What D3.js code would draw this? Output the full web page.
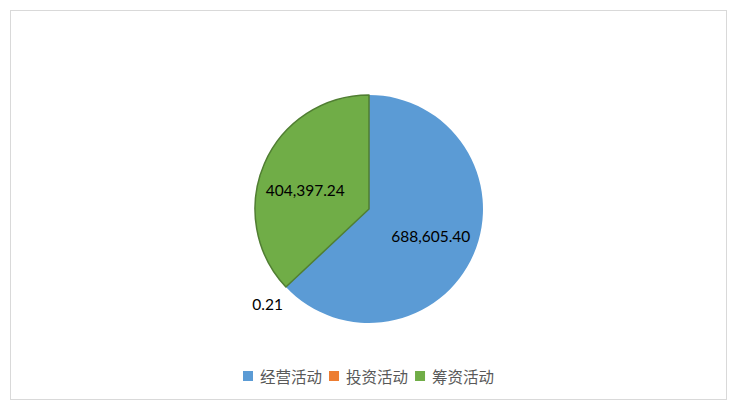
<!DOCTYPE html>
<html><head><meta charset="utf-8">
<script src="https://cdn.jsdelivr.net/npm/d3@7"></script>
<style>body{margin:0;background:#fff;}svg{display:block;}</style>
</head><body>
<svg id="c" width="745" height="406"></svg>
<script>
const categories = ["经营活动", "投资活动", "筹资活动"];
const values = [688605.40, 0.21, 404397.24];
const valueLabels = ["688,605.40", "0.21", "404,397.24"];
const colors = ["#5b9bd5", "#ed7d31", "#70ad47"];
const strokes = ["#5b9bd5", "#ed7d31", "#507e32"];

const svg = d3.select("#c");
svg.append("rect").attr("x", 10.5).attr("y", 10.5).attr("width", 716).attr("height", 389)
  .attr("fill", "#fff").attr("stroke", "#d9d9d9").attr("stroke-width", 1);

const cx = 369, cy = 209, r = 114;
const data = categories.map((c, i) => ({cat: c, v: values[i], label: valueLabels[i], i}));
const pie = d3.pie().value(d => d.v).sort(null);
const arcs = pie(data);
const arc = d3.arc().innerRadius(0).outerRadius(r);
const g = svg.append("g").attr("transform", `translate(${cx},${cy})`);
g.selectAll("path").data(arcs).join("path")
  .attr("d", arc)
  .attr("fill", d => colors[d.data.i])
  .attr("stroke", d => d.data.i === 2 ? strokes[2] : "none")
  .attr("stroke-width", 1.5)
  .attr("stroke-linejoin", "round");

const labelArc = d3.arc().innerRadius(r * 0.59).outerRadius(r * 0.59);
const outArc = d3.arc().innerRadius(139).outerRadius(139);
g.selectAll("text.lbl").data(arcs).join("text")
  .attr("class", "lbl")
  .attr("transform", d => {
    const p = d.data.i === 1 ? outArc.centroid(d) : labelArc.centroid(d);
    if (d.data.i === 2) { p[0] -= 2; p[1] += 8; }
    return `translate(${p[0]},${p[1]})`;
  })
  .attr("text-anchor", "middle")
  .attr("dominant-baseline", "central")
  .attr("font-family", "Lato, 'Open Sans', sans-serif")
  .attr("font-size", 15.5)
  .attr("fill", "#000")
  .text(d => d.data.label);

// legend
const legend = svg.append("g").attr("transform", "translate(0,376)");
let x = 243;
categories.forEach((c, i) => {
  const item = legend.append("g").attr("transform", `translate(${x},0)`);
  item.append("rect").attr("x", 0).attr("y", -5).attr("width", 10).attr("height", 10).attr("fill", colors[i]);
  const t = item.append("text").attr("x", 17).attr("y", 0)
    .attr("dominant-baseline", "central")
    .attr("font-family", "'Noto Sans CJK SC', sans-serif")
    .attr("font-size", 15.5).attr("fill", "#595959").text(c);
  x += 17 + t.node().getComputedTextLength() + 7;
});
</script>
</body></html>
